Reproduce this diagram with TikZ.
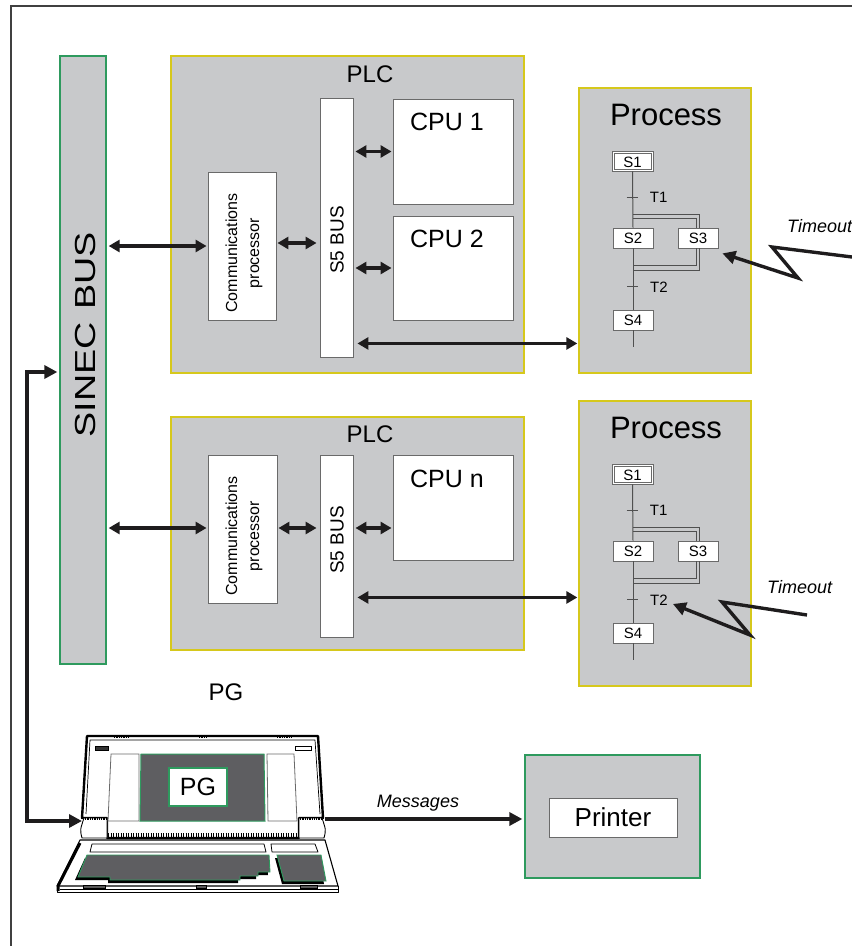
\documentclass[tikz,border=0pt]{standalone}
\usepackage{fontspec}
\setmainfont{Liberation Sans}
\usetikzlibrary{arrows.meta,calc}

\definecolor{panel}{HTML}{C8C9CB}
\definecolor{plcedge}{HTML}{D6C81C}
\definecolor{busedge}{HTML}{2E9A5E}
\definecolor{screen}{HTML}{5E5E61}
\definecolor{sfcline}{HTML}{505050}
\definecolor{boxedge}{HTML}{6A6A6A}
\definecolor{ink}{HTML}{1E1C1D}

\newcommand\fsz[2]{\fontsize{#1}{#2}\selectfont}

\tikzset{
  sz/.style 2 args={minimum width=#1, minimum height=#2},
  plcbox/.style={draw=plcedge, fill=panel, line width=1.3pt, inner sep=0pt},
  busbox/.style={draw=busedge, fill=panel, line width=1.3pt, inner sep=0pt},
  wbox/.style={draw=boxedge, fill=white, line width=0.9pt, inner sep=0pt},
  stepbox/.style={draw=boxedge, fill=white, line width=0.8pt, inner sep=0pt,
    minimum width=40, minimum height=20, font=\fsz{15}{16}},
  sfc/.style={draw=sfcline, line width=1pt},
  dbl/.style={draw=ink, line width=3.4pt,
    {Triangle[length=11pt,width=12pt]}-{Triangle[length=11pt,width=12pt]}},
  link/.style={draw=ink, line width=4pt,
    {Triangle[length=13pt,width=13pt]}-{Triangle[length=13pt,width=13pt]}},
  onearrow/.style={draw=ink, line width=4pt, -{Triangle[length=13pt,width=13pt]}},
  bolt/.style={draw=ink, line width=3.4pt, line join=miter,
    -{Triangle[length=13pt,width=13pt]}},
  lapline/.style={draw=black, line join=round},
}

\begin{document}
\begin{tikzpicture}[x=1pt, y=-1pt]
\useasboundingbox (0,0) rectangle (852,946);

% outer frame
\draw[draw=black!75, line width=1.1pt] (11,946) -- (11,6) -- (852,6);

% SINEC bus
\node[busbox, sz={46}{608}] (sinec) at (83,360) {};
\node[rotate=90, font=\fsz{29}{32}] (sinectxt) at (86,334.5) {\scalebox{1.3}[1]{SINEC\,\,BUS}};

% ---------- first PLC ----------
\node[plcbox, sz={353}{317}] (plc1) at (347.5,214.5) {};
\node[anchor=base, font=\fsz{24}{28}] (plc1t) at (370,82) {PLC};
\node[wbox, sz={68}{148}] (cp1) at (242,246) {};
\node[rotate=90, align=center, font=\fsz{16}{22}] (cp1t) at (244,253) {Communications\\processor};
\node[wbox, sz={33}{259}] (s5a) at (336.5,227.5) {};
\node[rotate=90, font=\fsz{19}{22}] (s5at) at (337,240) {S5 BUS};
\node[wbox, sz={120}{105}] (cpu1) at (453,151.5) {};
\node[anchor=base, font=\fsz{25}{30}] (cpu1t) at (447,130) {CPU 1};
\node[wbox, sz={120}{104}] (cpu2) at (453,268) {};
\node[anchor=base, font=\fsz{25}{30}] (cpu2t) at (447,247) {CPU 2};

% ---------- second PLC ----------
\node[plcbox, sz={353}{233}] (plc2) at (347.5,533.5) {};
\node[anchor=base, font=\fsz{24}{28}] (plc2t) at (370,442) {PLC};
\node[wbox, sz={69}{148}] (cp2) at (242.5,529) {};
\node[rotate=90, align=center, font=\fsz{16}{22}] (cp2t) at (244,536) {Communications\\processor};
\node[wbox, sz={33}{182}] (s5b) at (336.5,546) {};
\node[rotate=90, font=\fsz{19}{22}] (s5bt) at (337,540) {S5 BUS};
\node[wbox, sz={120}{105}] (cpun) at (453,507.5) {};
\node[anchor=base, font=\fsz{25}{30}] (cpunt) at (447,487) {CPU n};

% ---------- process blocks with step sequences ----------
\foreach \p/\dy in {1/0,2/313}{
  \begin{scope}[shift={(0,\dy)}]
    \node[plcbox, sz={172}{285}] (proc\p) at (665,230.5) {};
    \node[anchor=base, font=\fsz{31}{36}] (proct\p) at (666,125) {Process};
    \node[stepbox, minimum width=41] (sa\p) at (632.5,161) {};
    \draw[boxedge, line width=0.7pt] ([xshift=2.5pt,yshift=2.5pt]sa\p.south west)
      rectangle ([xshift=-2.5pt,yshift=-2.5pt]sa\p.north east);
    \node[font=\fsz{15}{16}, inner sep=0pt] (sat\p) at ([yshift=-1pt]sa\p.center) {S1};
    \node[stepbox] (sb\p) at (633,238) {S2};
    \node[stepbox] (sc\p) at (698,238) {S3};
    \node[stepbox] (sd\p) at (633,320) {S4};
    % main flow line
    \draw[sfc] (sa\p.south) -- (sb\p.north);
    \draw[sfc] (sb\p.south) -- (sd\p.north);
    \draw[sfc] (sd\p.south) -- ++(0,17);
    % transitions
    \coordinate (ta\p) at ($(sa\p.south)!0.47!(sb\p.north)$);
    \coordinate (tb\p) at ($(sb\p.south)!0.63!(sd\p.north)$);
    \draw[sfc] ([xshift=-6]ta\p) -- ([xshift=5]ta\p);
    \draw[sfc] ([xshift=-6]tb\p) -- ([xshift=5]tb\p);
    \node[anchor=west, font=\fsz{15}{16}, inner sep=0pt] (tal\p) at ([xshift=17]ta\p) {T1};
    \node[anchor=west, font=\fsz{15}{16}, inner sep=0pt] (tbl\p) at ([xshift=17]tb\p) {T2};
    % simultaneous branch (double lines)
    \draw[sfc] ([yshift=13]sb\p.north) -| ([xshift=1]sc\p.north);
    \draw[sfc] ([yshift=9]sb\p.north) -| ([xshift=-2]sc\p.north);
    \draw[sfc] ([xshift=-2]sc\p.south) |- ([yshift=-17]sb\p.south);
    \draw[sfc] ([xshift=1]sc\p.south) |- ([yshift=-22]sb\p.south);
  \end{scope}
}

% ---------- bus arrows ----------
\draw[dbl, shorten <=2pt, shorten >=1pt] (cp1.west -| sinec.east) -- (cp1.west);
\draw[dbl, shorten <=1pt, shorten >=3pt] ([yshift=3]cp1.east) -- ([yshift=3]cp1.east -| s5a.west);
\draw[dbl, shorten <=2pt, shorten >=1pt] (cpu1.west -| s5a.east) -- (cpu1.west);
\draw[dbl, shorten <=2pt, shorten >=1pt] (cpu2.west -| s5a.east) -- (cpu2.west);
\coordinate (pa1) at ([yshift=14]s5a.south east);
\draw[dbl, shorten <=4pt, shorten >=1pt] (pa1) -- (pa1 -| proc1.west);

\draw[dbl, shorten <=2pt, shorten >=1pt] ([yshift=1]cp2.west -| sinec.east) -- ([yshift=1]cp2.west);
\draw[dbl, shorten <=1pt, shorten >=3pt] ([yshift=1]cp2.east) -- ([yshift=1]cp2.east -| s5b.west);
\draw[dbl, shorten <=2pt, shorten >=1pt] ([yshift=1]cp2.east -| s5b.east) -- ([yshift=1]cp2.east -| cpun.west);
\coordinate (pa2) at ([yshift=40]s5b.south east);
\draw[dbl, shorten <=4pt, shorten >=1pt] (pa2) -- (pa2 -| proc2.west);

% ---------- timeout signals ----------
\node[anchor=base west, font=\fsz{18}{20}\itshape, inner sep=0pt] (to1) at (787,232) {Timeout};
\coordinate (z1) at (852,257);
\draw[bolt] (z1) -- (772,247) -- (798,278) -- ($(sc1.south east)+(4,5)$);
\node[anchor=base west, font=\fsz{18}{20}\itshape, inner sep=0pt] (to2) at (767,593) {Timeout};
\coordinate (z2) at (807,615);
\draw[bolt] (z2) -- (722,602) -- (750,635) -- ($(tbl2.east)+(5,4)$);

% ---------- programming unit (PG) ----------
\node[font=\fsz{24}{28}] (pglbl) at (226,692) {PG};
\coordinate (lapL) at (82,821);
\coordinate (lapR) at (325,819);

% base
\filldraw[lapline, fill=white, line width=1.1pt] (80,840) -- (325,840) -- (338,886) -- (57,886) -- cycle;
\draw[lapline, line width=3pt] (80,843) -- (58,886) -- (58,891);
\draw[lapline, line width=1pt] (57,886) -- (57,892) -- (338,892) -- (338,886);
\draw[lapline, line width=0.6pt] (60,889) -- (338,889);
\foreach \a/\b in {83/105,196/206,300/317}{
  \filldraw[fill=black!65, draw=black, line width=0.5pt] (\a,885.5) rectangle (\b,888.5);
}
% bars above the keys
\filldraw[lapline, fill=white, line width=0.8pt] (92,844) -- (264,844) -- (266,852) -- (90,852) -- cycle;
\filldraw[lapline, fill=white, line width=0.8pt] (271,844) -- (315,844) -- (318,852) -- (272,852) -- cycle;
% keyboard
\fill[black] (85,858) -- (267,858) -- (268,875) -- (256,875) -- (256,879) -- (238,879) -- (238,883) -- (108,883) -- (108,880) -- (75,880) -- cycle;
\filldraw[fill=screen, draw=busedge, line width=0.9pt] (87,855) -- (269,855) -- (270,872) -- (258,872) -- (258,876) -- (240,876) -- (240,880) -- (110,880) -- (110,877) -- (78,877) -- cycle;
\fill[black] (275,858) -- (319,858) -- (324,884) -- (282,884) -- cycle;
\filldraw[fill=screen, draw=busedge, line width=0.9pt] (277,855) -- (321,855) -- (326,881) -- (284,881) -- cycle;

% lid
\filldraw[lapline, fill=white, line width=2.4pt] (82,818) -- (87,736) -- (318,736) -- (323,818) -- (299,818) -- (299,838) -- (107,838) -- (107,818) -- cycle;
\draw[lapline, line width=0.7pt] (86,814) -- (90,740) -- (315,740) -- (320,814);
% hinges
\filldraw[lapline, fill=white, line width=0.9pt] (84,818) -- (107,818) -- (107,838) -- (82,838) .. controls (80,830) .. (84,818);
\filldraw[lapline, fill=white, line width=0.9pt] (299,818) -- (322,818) .. controls (326,830) .. (324,838) -- (299,838) -- cycle;
\draw[line width=3pt, dash pattern=on 1.3pt off 1pt] (85,818) -- (106,818);
\draw[line width=3pt, dash pattern=on 1.3pt off 1pt] (300,818) -- (321,818);
\draw[line width=3.5pt, dash pattern=on 1.4pt off 1.1pt] (108,835) -- (298,835);
% hinge marks along the top edge
\draw[line width=3pt, dash pattern=on 1.3pt off 1pt] (114,736) -- (128,736);
\draw[line width=3pt, dash pattern=on 1.3pt off 1pt] (199,736) -- (206,736);
\draw[line width=3pt, dash pattern=on 1.3pt off 1pt] (277,736) -- (291,736);
% small badges
\filldraw[fill=black!80, draw=black, line width=0.5pt] (95,746) rectangle (108,750);
\draw[black, line width=0.7pt] (295,746) rectangle (311,750);
% side panels and screen
\filldraw[draw=boxedge, fill=white, line width=0.8pt] (111,754) -- (139,754) -- (139,821) -- (108,821) -- cycle;
\filldraw[draw=boxedge, fill=white, line width=0.8pt] (267,754) -- (294,754) -- (297,821) -- (268,821) -- cycle;
\filldraw[fill=screen, draw=busedge, line width=1pt] (141,754) -- (264,754) -- (265,821) -- (140,821) -- cycle;
\node[draw=busedge, line width=2.2pt, fill=white, sz={58}{38}, inner sep=0pt, font=\fsz{25}{28}] (pgscr) at (198,787) {PG};

% link to the SINEC bus
\coordinate (sw) at ([yshift=-12]sinec.west);
\draw[link, line join=miter, shorten >=2pt] (lapL) -| ([xshift=-32]sw) -- (sw);

% printer
\node[busbox, sz={175}{123}] (prt) at (612.5,816.5) {};
\node[wbox, sz={128}{39}, font=\fsz{26}{30}] (prtt) at (613,817.5) {Printer};
\draw[onearrow, shorten >=2pt] (lapR) -- (lapR -| prt.west);
\node[anchor=base, font=\fsz{18}{20}\itshape] (msg) at (418,807) {Messages};

\end{tikzpicture}
\end{document}
